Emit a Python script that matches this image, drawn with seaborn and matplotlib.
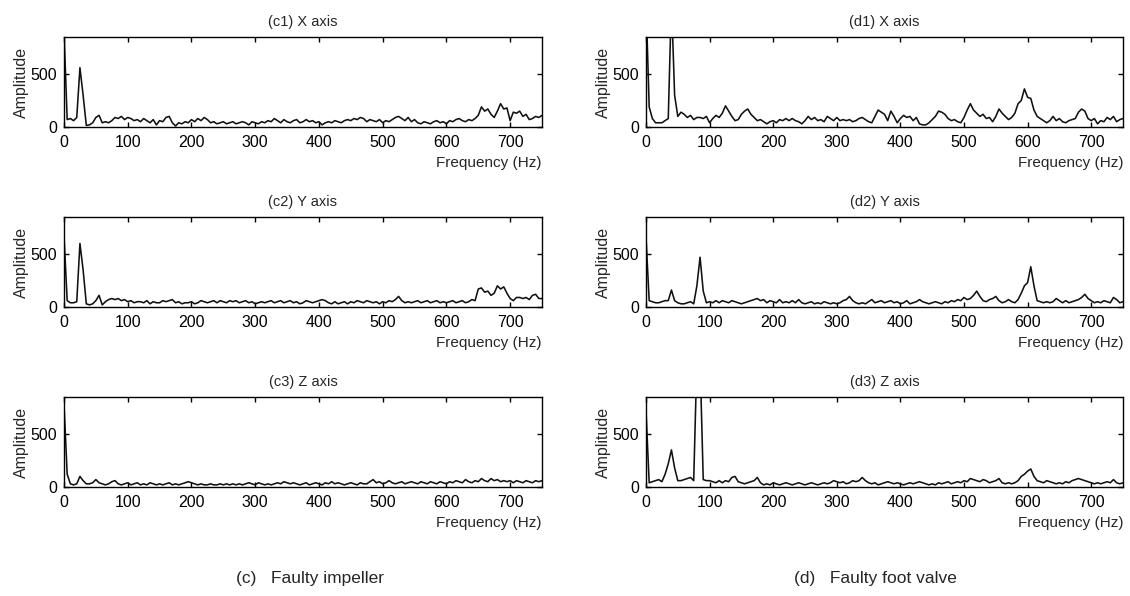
import numpy as np
import pandas as pd
import matplotlib
matplotlib.use("Agg")
import matplotlib.pyplot as plt
from matplotlib import font_manager
import seaborn as sns

# ---------------- data (5 Hz resolution) ----------------
freq_hz = list(range(0, 751, 5))

c1_x_amp = [
    900, 70, 80, 60, 90, 560, 300, 15, 20, 40,
    90, 110, 40, 50, 40, 60, 90, 80, 100, 70,
    90, 80, 60, 70, 50, 80, 60, 40, 70, 20,
    60, 50, 90, 100, 40, 10, 40, 30, 50, 40,
    70, 50, 80, 60, 90, 70, 40, 50, 30, 40,
    50, 30, 40, 50, 30, 40, 50, 40, 20, 50,
    40, 30, 50, 40, 60, 50, 80, 60, 40, 70,
    50, 40, 60, 70, 40, 50, 70, 50, 60, 40,
    50, 20, 40, 50, 40, 60, 50, 40, 60, 70,
    60, 80, 70, 90, 80, 50, 70, 60, 50, 70,
    40, 60, 50, 70, 90, 100, 80, 60, 90, 50,
    70, 40, 30, 50, 40, 30, 50, 60, 40, 50,
    30, 60, 50, 70, 80, 60, 50, 70, 60, 80,
    110, 190, 150, 170, 120, 90, 150, 220, 170, 180,
    60, 140, 130, 150, 100, 120, 70, 80, 100, 90,
    110]

c2_y_amp = [
    670, 60, 40, 40, 50, 600, 350, 30, 20, 30,
    60, 110, 20, 50, 70, 80, 70, 80, 60, 70,
    50, 60, 40, 50, 50, 40, 60, 30, 50, 40,
    40, 60, 50, 60, 70, 40, 50, 30, 40, 40,
    50, 30, 40, 60, 50, 40, 50, 60, 40, 60,
    50, 40, 60, 50, 60, 40, 50, 60, 40, 50,
    30, 40, 50, 40, 50, 60, 40, 50, 60, 40,
    50, 60, 40, 50, 30, 40, 60, 50, 40, 50,
    60, 70, 60, 40, 30, 50, 30, 40, 50, 30,
    50, 40, 60, 50, 40, 60, 50, 40, 50, 30,
    50, 40, 60, 50, 70, 100, 60, 40, 50, 40,
    50, 60, 40, 50, 60, 40, 50, 60, 40, 50,
    40, 50, 60, 40, 50, 60, 40, 50, 70, 60,
    170, 180, 140, 150, 110, 130, 200, 170, 190, 130,
    80, 60, 90, 90, 80, 90, 70, 110, 120, 80,
    80]

c3_z_amp = [
    780, 120, 30, 20, 30, 100, 60, 30, 30, 40,
    70, 40, 30, 20, 30, 50, 60, 30, 20, 30,
    40, 20, 30, 40, 20, 30, 20, 40, 30, 20,
    30, 20, 30, 40, 20, 30, 20, 30, 40, 50,
    40, 30, 20, 30, 20, 20, 30, 20, 20, 30,
    20, 30, 20, 30, 20, 30, 20, 30, 40, 30,
    20, 40, 30, 20, 30, 20, 30, 40, 30, 50,
    40, 30, 40, 30, 20, 30, 40, 20, 30, 40,
    30, 20, 40, 30, 50, 30, 40, 30, 20, 30,
    40, 30, 20, 40, 30, 30, 50, 70, 40, 50,
    30, 40, 60, 40, 30, 40, 50, 30, 40, 50,
    40, 30, 50, 40, 30, 50, 40, 30, 50, 40,
    30, 50, 40, 60, 50, 40, 70, 50, 40, 60,
    50, 80, 60, 50, 80, 60, 70, 50, 60, 50,
    60, 40, 60, 50, 40, 60, 50, 40, 60, 50,
    60]

d1_x_amp = [
    1200, 190, 80, 40, 40, 40, 60, 80, 1200, 300,
    100, 140, 120, 90, 110, 70, 90, 90, 80, 100,
    40, 80, 110, 90, 130, 200, 150, 100, 60, 70,
    120, 150, 170, 120, 90, 60, 70, 50, 30, 50,
    60, 40, 70, 60, 80, 60, 80, 60, 50, 30,
    60, 100, 70, 90, 60, 70, 50, 100, 80, 60,
    90, 60, 70, 60, 70, 50, 60, 80, 90, 70,
    50, 40, 100, 160, 140, 120, 60, 150, 100, 40,
    80, 110, 90, 100, 60, 90, 30, 20, 20, 40,
    70, 100, 150, 140, 120, 80, 60, 70, 50, 40,
    90, 160, 220, 160, 130, 100, 120, 80, 90, 50,
    100, 170, 130, 100, 70, 90, 130, 220, 250, 360,
    280, 270, 160, 100, 80, 60, 40, 60, 100, 60,
    80, 50, 40, 60, 70, 80, 140, 170, 150, 80,
    60, 80, 30, 60, 50, 90, 70, 100, 50, 70,
    80]

d2_y_amp = [
    660, 60, 50, 40, 40, 50, 60, 60, 160, 60,
    40, 30, 30, 40, 50, 30, 200, 470, 150, 40,
    50, 40, 60, 40, 60, 50, 40, 60, 50, 40,
    30, 40, 50, 60, 70, 80, 60, 70, 40, 60,
    50, 40, 70, 40, 50, 40, 60, 40, 70, 40,
    30, 40, 50, 30, 40, 30, 50, 40, 30, 40,
    30, 40, 60, 70, 100, 60, 40, 30, 40, 30,
    50, 70, 40, 50, 60, 40, 50, 60, 40, 50,
    30, 40, 60, 30, 40, 50, 70, 50, 40, 30,
    40, 50, 40, 30, 50, 40, 60, 50, 70, 60,
    90, 70, 80, 110, 150, 100, 60, 50, 70, 80,
    100, 60, 40, 50, 70, 50, 40, 70, 130, 200,
    230, 380, 200, 60, 50, 40, 50, 40, 50, 80,
    60, 40, 60, 40, 50, 60, 70, 90, 120, 80,
    60, 40, 50, 40, 60, 50, 40, 90, 70, 40,
    50]

d3_z_amp = [
    720, 40, 50, 60, 70, 50, 120, 220, 350, 180,
    60, 60, 70, 80, 90, 60, 1200, 1200, 70, 60,
    60, 50, 40, 60, 40, 60, 50, 90, 100, 50,
    40, 30, 40, 50, 60, 90, 40, 20, 30, 20,
    40, 30, 20, 30, 40, 30, 20, 30, 40, 30,
    20, 30, 40, 30, 20, 30, 40, 30, 40, 60,
    50, 40, 50, 30, 40, 60, 50, 60, 90, 60,
    40, 30, 40, 20, 30, 40, 50, 40, 30, 40,
    30, 20, 30, 40, 30, 40, 50, 40, 30, 20,
    30, 20, 40, 30, 40, 50, 30, 40, 50, 40,
    60, 50, 80, 70, 60, 50, 70, 60, 40, 50,
    60, 80, 40, 30, 40, 30, 40, 60, 100, 120,
    150, 170, 100, 60, 50, 40, 60, 50, 40, 30,
    40, 30, 50, 40, 60, 70, 80, 70, 60, 50,
    40, 30, 40, 30, 40, 50, 40, 70, 40, 30,
    40]

panel_titles = ["(c1) X axis", "(d1) X axis", "(c2) Y axis",
                "(d2) Y axis", "(c3) Z axis", "(d3) Z axis"]
panel_series = [c1_x_amp, d1_x_amp, c2_y_amp, d2_y_amp, c3_z_amp, d3_z_amp]
x_ticks = [0, 100, 200, 300, 400, 500, 600, 700]
y_ticks = [0, 500]
captions = ["(c)   Faulty impeller", "(d)   Faulty foot valve"]

# ---------------- style ----------------
sns.set_theme(style="ticks")


def has_font(name):
    try:
        font_manager.findfont(font_manager.FontProperties(family=name),
                              fallback_to_default=False)
        return True
    except Exception:
        return False


narrow = "Liberation Sans Narrow" if has_font("Liberation Sans Narrow") else "Liberation Sans"
regular = "Liberation Sans"
plt.rcParams["font.family"] = [regular, "DejaVu Sans"]
plt.rcParams.update({
    "xtick.direction": "in", "ytick.direction": "in",
    "xtick.top": True, "ytick.right": True,
    "xtick.major.size": 3.5, "ytick.major.size": 3.5,
    "xtick.major.width": 1.0, "ytick.major.width": 1.0,
    "axes.edgecolor": "black", "axes.linewidth": 1.0,
    "xtick.color": "black", "ytick.color": "black",
})

fig = plt.figure(figsize=(11.3, 5.96), dpi=100)
W, H = 1130.0, 596.0
lefts = [64, 646]
widths = [478, 477]
tops = [37, 217, 397]
ax_h = 90

for i, (title, amp) in enumerate(zip(panel_titles, panel_series)):
    row, col = divmod(i, 2)
    ax = fig.add_axes([lefts[col] / W, 1 - (tops[row] + ax_h) / H,
                       widths[col] / W, ax_h / H])
    df = pd.DataFrame({"Frequency": freq_hz, "Amplitude": amp})
    sns.lineplot(data=df, x="Frequency", y="Amplitude", ax=ax,
                 color="#111111", linewidth=1.15, estimator=None)
    ax.set_xlim(0, 750)
    ax.set_ylim(0, 850)
    ax.set_xticks(x_ticks)
    ax.set_yticks(y_ticks)
    ax.tick_params(axis="x", labelsize=11.5, pad=6)
    ax.tick_params(axis="y", labelsize=11.5, pad=5)
    for lab in ax.get_xticklabels() + ax.get_yticklabels():
        lab.set_family([narrow, "DejaVu Sans"])
    ax.set_title(title, fontsize=10.5, pad=8, family=[narrow, "DejaVu Sans"])
    ax.set_xlabel("Frequency (Hz)", loc="right", labelpad=4, fontsize=11,
                  family=[narrow, "DejaVu Sans"])
    ax.set_ylabel("Amplitude", fontsize=11.5, family=[regular, "DejaVu Sans"])
    ax.yaxis.set_label_coords(-35 / widths[col], 0.5)

fig.text(310 / W, 1 - 578 / H, captions[0], ha="center", va="center",
         fontsize=12.5, family=[regular, "DejaVu Sans"])
fig.text(875 / W, 1 - 578 / H, captions[1], ha="center", va="center",
         fontsize=12.5, family=[regular, "DejaVu Sans"])

fig.savefig("out.png", dpi=100)
